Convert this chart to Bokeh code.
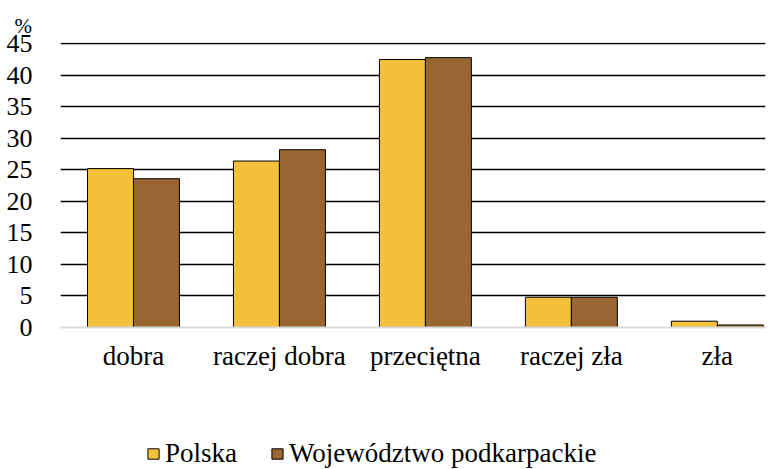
from bokeh.plotting import figure
from bokeh.layouts import column
from bokeh.models import (ColumnDataSource, Range1d, FixedTicker, Legend, LegendItem)
from bokeh.embed import file_html
from bokeh.resources import INLINE

categories = ["dobra", "raczej dobra", "przeciętna", "raczej zła", "zła"]
polska = [25.2, 26.4, 42.5, 4.8, 1.0]
podkarpackie = [23.6, 28.2, 42.8, 4.8, 0.4]
series_names = ["Polska", "Województwo podkarpackie"]
y_ticks = [0, 5, 10, 15, 20, 25, 30, 35, 40, 45]
unit_label = "%"

FONT = "Liberation Serif"
C_POL = "#F5C13C"
C_WOJ = "#996633"

idx = list(range(len(categories)))
src = ColumnDataSource(dict(
    x_pol=[i - 0.1575 for i in idx],
    x_woj=[i + 0.1575 for i in idx],
    pol=polska, woj=podkarpackie))

p = figure(width=777, height=420, output_backend="svg", toolbar_location=None,
           x_range=Range1d(-0.5, 4.33), y_range=Range1d(0, 45.2),
           min_border_left=60, min_border_right=12, min_border_top=42,
           min_border_bottom=93)
p.outline_line_color = None
p.background_fill_color = "white"
p.border_fill_color = "white"

p.title.text = unit_label
p.title.align = "left"
p.title.offset = -46
p.title.standoff = 10
p.title.text_font = FONT
p.title.text_font_size = "21px"
p.title.text_font_style = "normal"
p.title.text_color = "black"

p.vbar(x="x_pol", top="pol", width=0.315, source=src,
       fill_color=C_POL, line_color="black", line_width=1)
p.vbar(x="x_woj", top="woj", width=0.315, source=src,
       fill_color=C_WOJ, line_color="black", line_width=1)

# axes
p.xaxis.ticker = FixedTicker(ticks=idx)
p.xaxis.major_label_overrides = {i: c for i, c in zip(idx, categories)}
p.xaxis.major_label_text_font = FONT
p.xaxis.major_label_text_font_size = "27px"
p.xaxis.major_label_text_color = "black"
p.xaxis.major_label_standoff = 7
p.xaxis.axis_line_color = "#d9d9d9"
p.xaxis.axis_line_width = 2
p.xaxis.major_tick_line_color = None
p.xaxis.minor_tick_line_color = None

p.yaxis.ticker = FixedTicker(ticks=y_ticks)
p.yaxis.major_label_text_font = FONT
p.yaxis.major_label_text_font_size = "26px"
p.yaxis.major_label_text_color = "black"
p.yaxis.major_label_standoff = 22
p.yaxis.axis_line_color = None
p.yaxis.major_tick_line_color = None
p.yaxis.minor_tick_line_color = None

p.xgrid.grid_line_color = None
p.ygrid.ticker = FixedTicker(ticks=y_ticks[1:])
p.ygrid.grid_line_color = "black"
p.ygrid.grid_line_width = 1.5

# legend in its own strip below the chart (its bars lie far outside its view)
pl = figure(width=777, height=49, output_backend="svg", toolbar_location=None,
            min_border=0, x_axis_location=None, y_axis_location=None,
            x_range=Range1d(1000, 1001), y_range=Range1d(1000, 1001))
pl.grid.visible = False
pl.outline_line_color = None
pl.background_fill_color = "white"
pl.border_fill_color = "white"
lr1 = pl.vbar(x="x_pol", top="pol", width=0.315, source=src,
              fill_color=C_POL, line_color="black", line_width=1)
lr2 = pl.vbar(x="x_woj", top="woj", width=0.315, source=src,
              fill_color=C_WOJ, line_color="black", line_width=1)
legend = Legend(items=[LegendItem(label=series_names[0], renderers=[lr1]),
                       LegendItem(label=series_names[1], renderers=[lr2])],
                orientation="horizontal", location=(86, 0),
                label_text_font=FONT, label_text_font_size="27px",
                label_text_color="black", glyph_width=14, glyph_height=13,
                label_standoff=5, spacing=33, padding=0, margin=0,
                border_line_color=None, background_fill_alpha=0)
pl.add_layout(legend)

layout = column(p, pl, spacing=0)
open("out.html", "w").write(file_html(layout, INLINE))
